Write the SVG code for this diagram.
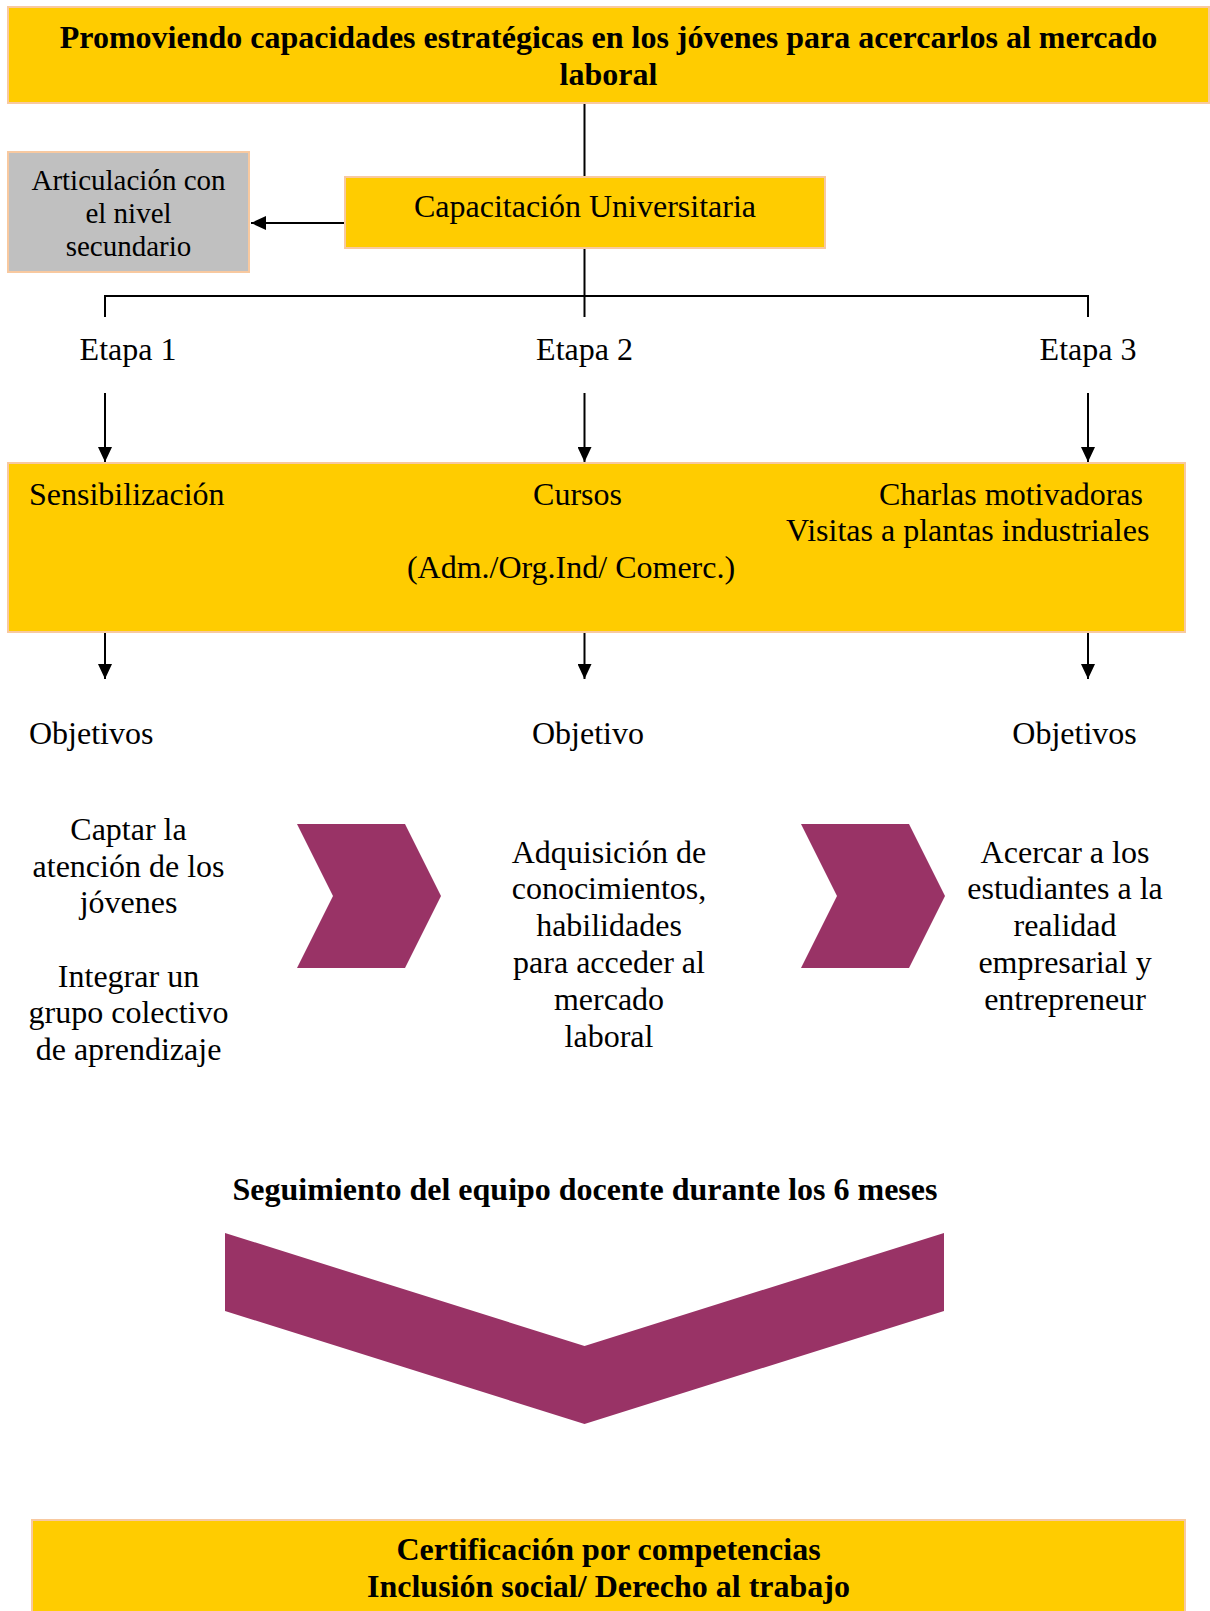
<svg xmlns="http://www.w3.org/2000/svg" width="1210" height="1611" viewBox="0 0 1210 1611">
<defs>
<style>
.box{fill:#FFCC00;stroke:#F8C9A0;stroke-width:2}
.gray{fill:#C0C0C0;stroke:#F8C9A0;stroke-width:2}
.t{font-family:"Liberation Serif","Times New Roman",serif;font-size:32px;fill:#000}
.b{font-weight:bold}
.s{font-size:29px}
.m{text-anchor:middle}
.con{fill:none;stroke:#000;stroke-width:2}
.chev{fill:#993366}
</style>
<marker id="arr" markerUnits="userSpaceOnUse" markerWidth="16" markerHeight="14" refX="15" refY="7" orient="auto">
<path d="M0,0 L15,7 L0,14 Z" fill="#000"/>
</marker>
</defs>
<rect width="1210" height="1611" fill="#fff"/>

<g id="connectors">
<path class="con" d="M584.5,103 V177"/>
<path class="con" d="M345,223 H251" marker-end="url(#arr)"/>
<path class="con" d="M584.5,248 V317"/>
<path class="con" d="M105,317 V296 H1088 V317"/>
<path class="con" d="M105,393 V462" marker-end="url(#arr)"/>
<path class="con" d="M584.5,393 V462" marker-end="url(#arr)"/>
<path class="con" d="M1088,393 V462" marker-end="url(#arr)"/>
<path class="con" d="M105,632 V679" marker-end="url(#arr)"/>
<path class="con" d="M584.5,632 V679" marker-end="url(#arr)"/>
<path class="con" d="M1088,632 V679" marker-end="url(#arr)"/>
</g>

<g id="title">
<rect class="box" x="8" y="7" width="1201" height="96"/>
<text class="t b m" x="608.5" y="48">Promoviendo capacidades estratégicas en los jóvenes para acercarlos al mercado</text>
<text class="t b m" x="608.5" y="85">laboral</text>
</g>

<g id="capacitacion">
<rect class="box" x="345" y="177" width="480" height="71"/>
<text class="t m" x="585" y="217">Capacitación Universitaria</text>
</g>

<g id="articulacion">
<rect class="gray" x="8" y="152" width="241" height="120"/>
<text class="t s m" x="128.5" y="190">Articulación con</text>
<text class="t s m" x="128.5" y="223">el nivel</text>
<text class="t s m" x="128.5" y="256">secundario</text>
</g>

<g id="etapa1"><text class="t m" x="128" y="360">Etapa 1</text></g>
<g id="etapa2"><text class="t m" x="584.5" y="360">Etapa 2</text></g>
<g id="etapa3"><text class="t m" x="1088" y="360">Etapa 3</text></g>

<g id="actividades">
<rect class="box" x="8" y="463" width="1177" height="169"/>
<text class="t" x="29" y="505">Sensibilización</text>
<text class="t m" x="577.5" y="505">Cursos</text>
<text class="t m" x="571" y="578">(Adm./Org.Ind/ Comerc.)</text>
<text class="t" x="879" y="505">Charlas motivadoras</text>
<text class="t" x="786" y="541">Visitas a plantas industriales</text>
</g>

<g id="objetivos1"><text class="t" x="29" y="744">Objetivos</text></g>
<g id="objetivo2"><text class="t m" x="588" y="744">Objetivo</text></g>
<g id="objetivos3"><text class="t m" x="1074.5" y="744">Objetivos</text></g>

<g id="texto1">
<text class="t m" x="128.5" y="840">Captar la</text>
<text class="t m" x="128.5" y="877">atención de los</text>
<text class="t m" x="128.5" y="913">jóvenes</text>
<text class="t m" x="128.5" y="987">Integrar un</text>
<text class="t m" x="128.5" y="1023">grupo colectivo</text>
<text class="t m" x="128.5" y="1060">de aprendizaje</text>
</g>

<g id="chevron1"><path class="chev" d="M297,824 H405 L441,896 L405,968 H297 L333,896 Z"/></g>

<g id="texto2">
<text class="t m" x="609" y="863">Adquisición de</text>
<text class="t m" x="609" y="899">conocimientos,</text>
<text class="t m" x="609" y="936">habilidades</text>
<text class="t m" x="609" y="973">para acceder al</text>
<text class="t m" x="609" y="1010">mercado</text>
<text class="t m" x="609" y="1047">laboral</text>
</g>

<g id="chevron2"><path class="chev" d="M801,824 H909 L945,896 L909,968 H801 L837,896 Z"/></g>

<g id="texto3">
<text class="t m" x="1065" y="863">Acercar a los</text>
<text class="t m" x="1065" y="899">estudiantes a la</text>
<text class="t m" x="1065" y="936">realidad</text>
<text class="t m" x="1065" y="973">empresarial y</text>
<text class="t m" x="1065" y="1010">entrepreneur</text>
</g>

<g id="seguimiento">
<text class="t b m" x="585" y="1200">Seguimiento del equipo docente durante los 6 meses</text>
<path class="chev" d="M225,1233 L584.5,1346 L944,1233 V1311 L584.5,1424 L225,1311 Z"/>
</g>

<g id="certificacion">
<rect class="box" x="32" y="1520" width="1153" height="100"/>
<text class="t b m" x="608.5" y="1560">Certificación por competencias</text>
<text class="t b m" x="608.5" y="1597">Inclusión social/ Derecho al trabajo</text>
</g>
</svg>
